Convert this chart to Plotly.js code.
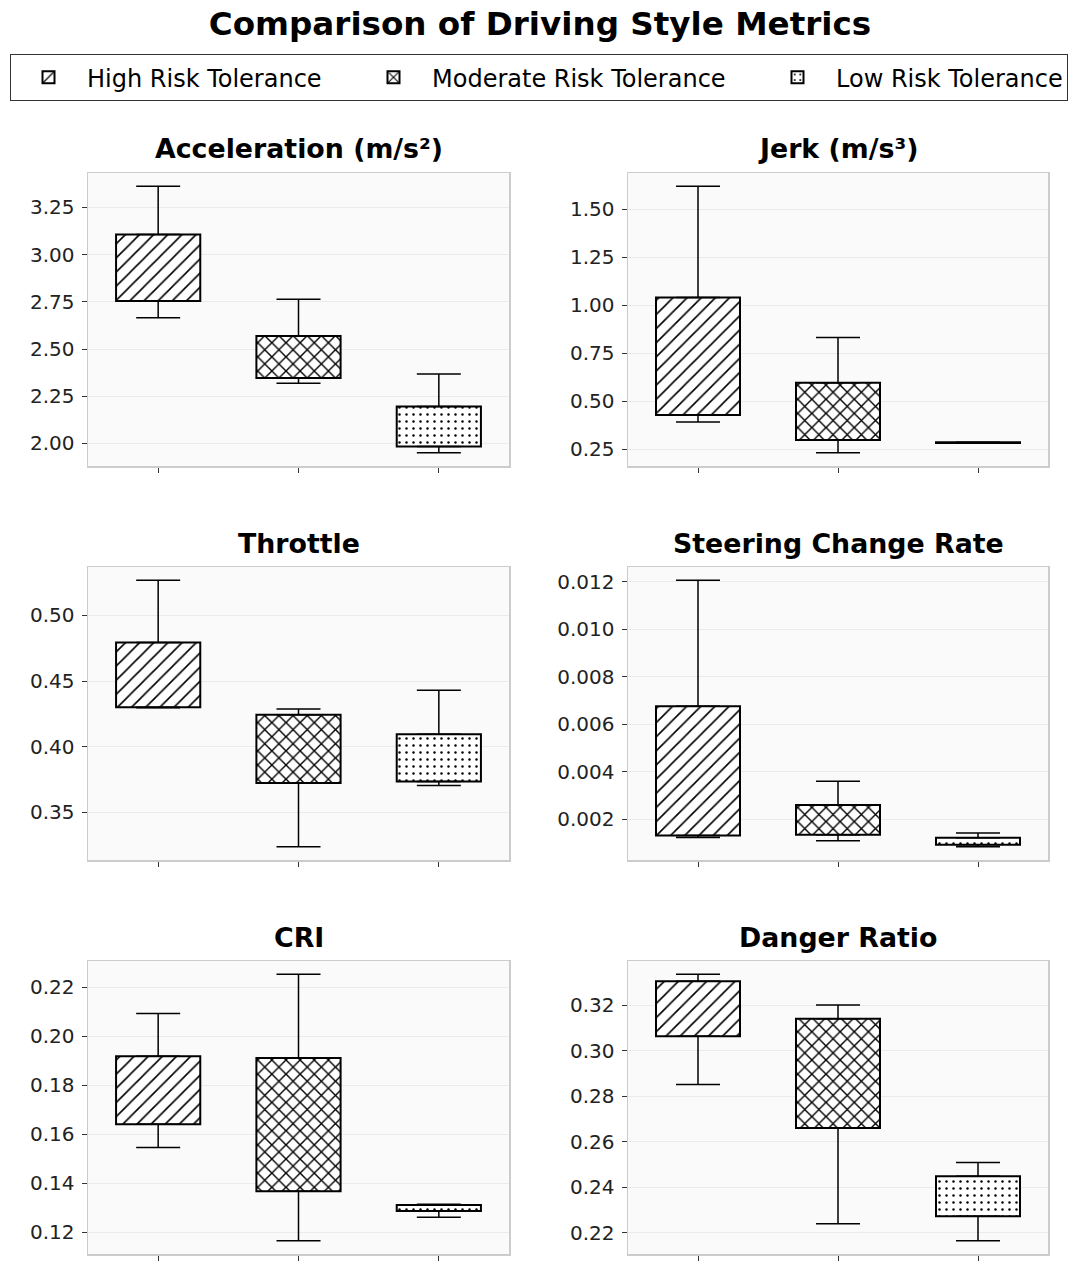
<!DOCTYPE html>
<html>
<head>
<meta charset="utf-8">
<script src="https://cdn.plot.ly/plotly-3.0.1.min.js"></script>
<style>
  body { margin: 0; background: #fff; }
  #chart { width: 1080px; height: 1271px; }
</style>
</head>
<body>
<div id="chart"></div>
<script>
// groups in legend order
const groups = ["High Risk Tolerance", "Moderate Risk Tolerance", "Low Risk Tolerance"];
const metrics = ["Acceleration (m/s²)", "Jerk (m/s³)", "Throttle", "Steering Change Rate", "CRI", "Danger Ratio"];

// one row per metric, values for [high, moderate, low]
const lowerWhisker = [
  [2.666, 2.319, 1.951],
  [0.391, 0.231, 0.280],
  [0.4297, 0.3237, 0.3704],
  [0.001246, 0.001106, 0.000855],
  [0.1546, 0.1166, 0.1262],
  [0.2851, 0.2239, 0.2164],
];
const q1 = [
  [2.755, 2.347, 1.984],
  [0.427, 0.297, 0.281],
  [0.4300, 0.3722, 0.3734],
  [0.00133, 0.001358, 0.000939],
  [0.1641, 0.1368, 0.1287],
  [0.3064, 0.2660, 0.2271],
];
const q3 = [
  [3.107, 2.569, 2.195],
  [1.040, 0.595, 0.285],
  [0.4793, 0.4243, 0.4094],
  [0.006768, 0.002615, 0.001232],
  [0.1919, 0.1911, 0.1312],
  [0.3306, 0.3141, 0.2447],
];
const upperWhisker = [
  [3.362, 2.764, 2.368],
  [1.619, 0.831, 0.286],
  [0.5268, 0.4286, 0.4429],
  [0.01207, 0.00361, 0.001427],
  [0.2093, 0.2253, 0.1315],
  [0.3336, 0.3201, 0.2508],
];

const tickSteps = [0.25, 0.25, 0.05, 0.002, 0.02, 0.02];
const tickFormats = [".2f", ".2f", ".2f", ".3f", ".2f", ".2f"];

const patterns = [
  { shape: "/", size: 10, solidity: 0.16 },
  { shape: "x", size: 10, solidity: 0.26 },
  { shape: ".", size: 7, solidity: 0.1 },
];
const legendWidths = [263, 322, 225];

const FONT = "DejaVu Sans";
const W = 1080, H = 1271;
const colX = [[88, 509], [628, 1048]];
const rowY = [[173, 466], [567, 860], [961, 1254]];
const titleY = [149, 543, 937];

const traces = [];
const layout = {
  width: W,
  height: H,
  margin: { l: 0, r: 0, t: 0, b: 0 },
  paper_bgcolor: "white",
  plot_bgcolor: "#fafafa",
  barmode: "overlay",
  showlegend: true,
  title: {
    text: "Comparison of Driving Style Metrics",
    font: { family: FONT, size: 32.6, weight: "bold", color: "black" },
    x: 0.5, xanchor: "center",
    yref: "container", y: 1 - 24 / H, yanchor: "middle",
  },
  legend: {
    orientation: "h",
    x: 10 / W, xanchor: "left",
    y: 1 - 54 / H, yanchor: "top",
    itemwidth: 67,
    font: { family: FONT, size: 24, color: "black" },
    bordercolor: "#333",
    borderwidth: 1.2,
    bgcolor: "white",
  },
  annotations: [],
};

metrics.forEach((metric, i) => {
  const col = i % 2, row = Math.floor(i / 2);
  const n = i + 1;
  const xa = "x" + (n === 1 ? "" : n), ya = "y" + (n === 1 ? "" : n);

  groups.forEach((g, j) => {
    traces.push({
      type: "bar",
      x: [j + 1],
      base: [q1[i][j]],
      y: [q3[i][j] - q1[i][j]],
      width: 0.6,
      xaxis: xa, yaxis: ya,
      name: g,
      legendgroup: g,
      legendwidth: legendWidths[j],
      showlegend: i === 0,
      hoverinfo: "skip",
      marker: {
        color: "white",
        line: { color: "black", width: 2 },
        pattern: Object.assign({ fgcolor: "black", bgcolor: "white" }, patterns[j]),
      },
    });
  });

  const xs = [1, 2, 3];
  const whisker = (y, plus, minus) => ({
    type: "scatter",
    mode: "markers",
    x: xs, y: y,
    xaxis: xa, yaxis: ya,
    showlegend: false,
    hoverinfo: "skip",
    marker: { size: 1, color: "rgba(0,0,0,0)" },
    error_y: {
      type: "data", symmetric: false,
      array: plus, arrayminus: minus,
      color: "black", thickness: 1.5, width: 22,
    },
  });
  traces.push(whisker(q3[i], upperWhisker[i].map((u, j) => u - q3[i][j]), [0, 0, 0]));
  traces.push(whisker(q1[i], [0, 0, 0], lowerWhisker[i].map((l, j) => q1[i][j] - l)));

  // matplotlib-style 5% margin around the whiskers
  const lo = Math.min(...lowerWhisker[i]), hi = Math.max(...upperWhisker[i]);
  const pad = (hi - lo) * 0.05;

  layout["xaxis" + (n === 1 ? "" : n)] = {
    domain: [colX[col][0] / W, colX[col][1] / W],
    anchor: ya,
    range: [0.5, 3.5],
    tickvals: xs,
    showticklabels: false,
    ticks: "outside", ticklen: 5, tickwidth: 1, tickcolor: "#333",
    showgrid: false, zeroline: false,
    showline: true, mirror: true, linecolor: "#cccccc", linewidth: 1.5,
    fixedrange: true,
  };
  layout["yaxis" + (n === 1 ? "" : n)] = {
    domain: [1 - rowY[row][1] / H, 1 - rowY[row][0] / H],
    anchor: xa,
    range: [lo - pad, hi + pad],
    dtick: tickSteps[i],
    tick0: 0,
    tickformat: tickFormats[i],
    ticks: "outside", ticklen: 5, tickwidth: 1, tickcolor: "#333",
    ticklabelstandoff: 3,
    tickfont: { family: FONT, size: 20, color: "#222" },
    showgrid: true, gridcolor: "#ebebeb", gridwidth: 1,
    zeroline: false,
    showline: true, mirror: true, linecolor: "#cccccc", linewidth: 1.5,
    fixedrange: true,
  };

  layout.annotations.push({
    text: metric,
    xref: "paper", yref: "paper",
    x: (colX[col][0] + colX[col][1]) / 2 / W,
    y: 1 - titleY[row] / H,
    xanchor: "center", yanchor: "middle",
    showarrow: false,
    font: { family: FONT, size: 26.8, weight: "bold", color: "black" },
  });
});

Plotly.newPlot("chart", traces, layout, { displayModeBar: false, staticPlot: true });
</script>
</body>
</html>
